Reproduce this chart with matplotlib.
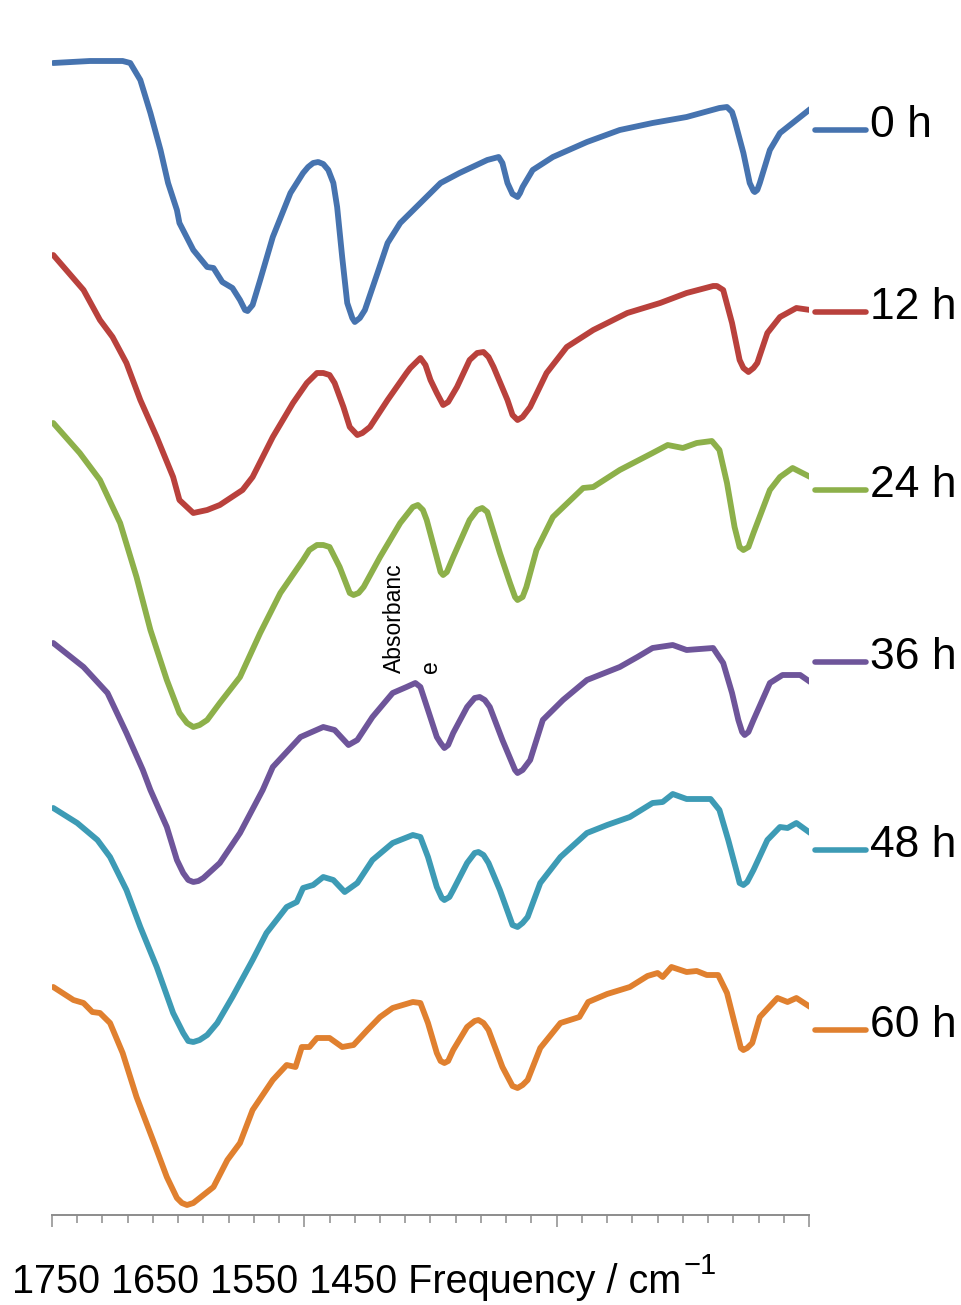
import matplotlib
matplotlib.use("Agg")
import matplotlib.pyplot as plt
from matplotlib.lines import Line2D
from matplotlib.ticker import MultipleLocator

plt.rcParams['font.family'] = ['Liberation Sans', 'DejaVu Sans']

# ---------------- data (wavenumber / cm-1, offset absorbance) ----------------
wn_0h = [1799, 1770, 1744, 1738, 1730, 1722, 1714, 1708, 1701, 1699, 1688, 1677, 1672, 1665, 1657,
         1651, 1647, 1645, 1641, 1635, 1625, 1611, 1601, 1597, 1593, 1589, 1585, 1581, 1577, 1574,
         1570, 1566, 1562, 1560, 1556, 1552, 1542, 1534, 1524, 1508, 1492, 1477, 1455, 1446, 1443,
         1439, 1435, 1431, 1429, 1427, 1419, 1403, 1376, 1350, 1324, 1297, 1271, 1265, 1261, 1259,
         1252, 1247, 1244, 1243, 1241, 1239, 1231, 1223, 1213, 1199]
ab_0h = [11.52, 11.54, 11.54, 11.52, 11.35, 11.02, 10.65, 10.32, 10.05, 9.92, 9.65, 9.48, 9.47, 9.33, 9.27,
         9.15, 9.05, 9.04, 9.10, 9.35, 9.78, 10.22, 10.42, 10.48, 10.52, 10.53, 10.51, 10.45, 10.32, 10.08,
         9.58, 9.12, 8.97, 8.93, 8.97, 9.05, 9.42, 9.72, 9.92, 10.12, 10.32, 10.42, 10.55, 10.58, 10.52,
         10.32, 10.21, 10.18, 10.22, 10.28, 10.45, 10.58, 10.73, 10.85, 10.92, 10.98, 11.07, 11.08, 11.03, 10.95,
         10.62, 10.32, 10.24, 10.23, 10.25, 10.32, 10.65, 10.82, 10.92, 11.06]

wn_12h = [1799, 1775, 1762, 1752, 1741, 1730, 1717, 1704, 1699, 1688, 1677, 1667, 1649, 1641, 1625,
          1609, 1598, 1590, 1585, 1580, 1576, 1569, 1564, 1558, 1554, 1548, 1534, 1519, 1516, 1508,
          1504, 1500, 1495, 1490, 1486, 1479, 1469, 1463, 1458, 1454, 1450, 1439, 1435, 1431, 1427,
          1421, 1408, 1392, 1371, 1344, 1318, 1297, 1276, 1273, 1268, 1261, 1255, 1252, 1248, 1244,
          1241, 1233, 1223, 1210, 1199]
ab_12h = [9.60, 9.25, 8.95, 8.78, 8.52, 8.15, 7.78, 7.38, 7.15, 7.02, 7.05, 7.10, 7.25, 7.38, 7.78,
          8.12, 8.32, 8.42, 8.42, 8.40, 8.32, 8.08, 7.88, 7.80, 7.82, 7.88, 8.15, 8.42, 8.47, 8.57,
          8.50, 8.35, 8.22, 8.10, 8.13, 8.28, 8.55, 8.62, 8.63, 8.58, 8.48, 8.15, 8.00, 7.95, 7.98,
          8.08, 8.42, 8.68, 8.85, 9.02, 9.12, 9.22, 9.29, 9.29, 9.25, 8.92, 8.55, 8.47, 8.43, 8.47,
          8.52, 8.82, 8.98, 9.07, 9.05]

wn_24h = [1799, 1778, 1762, 1746, 1733, 1722, 1709, 1699, 1693, 1688, 1683, 1677, 1667, 1651, 1635,
          1619, 1601, 1596, 1590, 1585, 1580, 1572, 1564, 1561, 1557, 1553, 1540, 1524, 1514, 1510,
          1506, 1503, 1496, 1492, 1490, 1487, 1482, 1469, 1463, 1459, 1455, 1453, 1445, 1437, 1433,
          1431, 1427, 1424, 1416, 1403, 1379, 1371, 1350, 1324, 1312, 1300, 1289, 1277, 1271, 1265,
          1259, 1255, 1252, 1248, 1244, 1231, 1223, 1213, 1199]
ab_24h = [7.92, 7.62, 7.35, 6.92, 6.38, 5.85, 5.35, 5.02, 4.92, 4.88, 4.90, 4.95, 5.12, 5.38, 5.82,
          6.22, 6.55, 6.65, 6.70, 6.70, 6.68, 6.48, 6.22, 6.20, 6.22, 6.28, 6.58, 6.92, 7.08, 7.10,
          7.05, 6.95, 6.62, 6.43, 6.40, 6.43, 6.58, 6.95, 7.05, 7.07, 7.03, 6.95, 6.62, 6.32, 6.18,
          6.15, 6.18, 6.28, 6.65, 6.98, 7.27, 7.28, 7.45, 7.62, 7.70, 7.67, 7.72, 7.74, 7.65, 7.32,
          6.88, 6.68, 6.65, 6.68, 6.82, 7.25, 7.38, 7.47, 7.38]

wn_36h = [1799, 1775, 1756, 1741, 1728, 1722, 1709, 1701, 1696, 1692, 1688, 1684, 1680, 1667, 1651,
          1633, 1625, 1603, 1585, 1576, 1565, 1558, 1546, 1530, 1519, 1512, 1508, 1502, 1495, 1492,
          1489, 1486, 1482, 1471, 1465, 1461, 1457, 1453, 1443, 1433, 1431, 1427, 1421, 1411, 1395,
          1376, 1350, 1336, 1324, 1308, 1297, 1276, 1268, 1261, 1256, 1253, 1251, 1248, 1244, 1231,
          1221, 1207, 1199]
ab_36h = [5.72, 5.48, 5.22, 4.82, 4.45, 4.25, 3.88, 3.55, 3.42, 3.35, 3.33, 3.34, 3.37, 3.52, 3.82,
          4.25, 4.48, 4.78, 4.88, 4.85, 4.70, 4.75, 4.98, 5.22, 5.28, 5.32, 5.28, 5.05, 4.78, 4.72,
          4.67, 4.70, 4.82, 5.08, 5.17, 5.18, 5.15, 5.08, 4.75, 4.45, 4.42, 4.45, 4.55, 4.95, 5.15,
          5.35, 5.48, 5.58, 5.67, 5.70, 5.65, 5.67, 5.52, 5.22, 4.95, 4.83, 4.80, 4.83, 4.95, 5.32,
          5.40, 5.40, 5.33]

wn_48h = [1799, 1780, 1764, 1754, 1741, 1730, 1717, 1704, 1696, 1692, 1688, 1683, 1677, 1669, 1657,
          1641, 1630, 1614, 1606, 1601, 1593, 1585, 1577, 1568, 1558, 1546, 1530, 1514, 1508, 1502,
          1495, 1491, 1489, 1485, 1482, 1471, 1465, 1462, 1458, 1454, 1445, 1435, 1431, 1427, 1423,
          1413, 1397, 1376, 1360, 1342, 1324, 1316, 1308, 1297, 1278, 1271, 1264, 1257, 1255, 1252,
          1249, 1244, 1233, 1223, 1217, 1210, 1199]
ab_48h = [4.07, 3.92, 3.75, 3.58, 3.25, 2.88, 2.48, 2.02, 1.82, 1.74, 1.73, 1.75, 1.80, 1.92, 2.18,
          2.55, 2.82, 3.08, 3.13, 3.27, 3.30, 3.38, 3.35, 3.23, 3.32, 3.55, 3.72, 3.80, 3.78, 3.58,
          3.28, 3.17, 3.15, 3.18, 3.25, 3.52, 3.62, 3.63, 3.60, 3.52, 3.25, 2.90, 2.88, 2.92, 2.98,
          3.32, 3.58, 3.82, 3.90, 3.98, 4.12, 4.13, 4.21, 4.16, 4.16, 4.05, 3.75, 3.42, 3.32, 3.30,
          3.33, 3.45, 3.75, 3.88, 3.87, 3.92, 3.82]

wn_60h = [1799, 1783, 1775, 1768, 1762, 1754, 1744, 1733, 1720, 1709, 1701, 1697, 1693, 1688, 1683,
          1672, 1661, 1651, 1641, 1625, 1614, 1607, 1602, 1596, 1590, 1580, 1570, 1561, 1550, 1540,
          1530, 1514, 1508, 1502, 1495, 1492, 1489, 1486, 1482, 1471, 1465, 1462, 1458, 1454, 1443,
          1435, 1431, 1427, 1423, 1413, 1397, 1382, 1375, 1360, 1342, 1328, 1320, 1316, 1309, 1297,
          1289, 1281, 1272, 1265, 1259, 1254, 1252, 1249, 1245, 1239, 1225, 1217, 1210, 1199]
ab_60h = [2.28, 2.15, 2.12, 2.03, 2.02, 1.92, 1.62, 1.18, 0.75, 0.38, 0.17, 0.12, 0.10, 0.12, 0.17,
          0.28, 0.55, 0.72, 1.05, 1.35, 1.50, 1.48, 1.68, 1.68, 1.77, 1.77, 1.68, 1.70, 1.85, 1.98,
          2.07, 2.13, 2.12, 1.92, 1.62, 1.54, 1.52, 1.54, 1.65, 1.88, 1.94, 1.95, 1.92, 1.85, 1.48,
          1.29, 1.27, 1.30, 1.35, 1.67, 1.92, 1.98, 2.13, 2.21, 2.28, 2.39, 2.42, 2.38, 2.48, 2.43,
          2.44, 2.40, 2.40, 2.22, 1.92, 1.67, 1.65, 1.67, 1.72, 1.98, 2.17, 2.13, 2.17, 2.08]

series_labels = ["0 h", "12 h", "24 h", "36 h", "48 h", "60 h"]
series_wn = [wn_0h, wn_12h, wn_24h, wn_36h, wn_48h, wn_60h]
series_ab = [ab_0h, ab_12h, ab_24h, ab_36h, ab_48h, ab_60h]
colors = ["#4673AF", "#B9413C", "#8DB04A", "#6E559A", "#3D9BB5", "#E0802F"]

axis_label = "1750 1650 1550 1450 Frequency / cm"
axis_label_sup = "\u22121"
y_title = "Absorbance"

# ---------------- figure ----------------
W, H = 962, 1305
fig = plt.figure(figsize=(W / 100, H / 100), dpi=100)
ax = fig.add_axes([52 / W, (H - 1215) / H, (809 - 52) / W, 1175 / H])

for wn, ab, c in zip(series_wn, series_ab, colors):
    ax.plot(wn, ab, color=c, lw=4.2, solid_joinstyle='round', solid_capstyle='round')

ax.set_xlim(1800, 1200)
ax.set_ylim(0, 11.75)
for s in ['left', 'right', 'top']:
    ax.spines[s].set_visible(False)
ax.spines['bottom'].set_color('#8c8c8c')
ax.spines['bottom'].set_linewidth(1.4)
ax.xaxis.set_major_locator(MultipleLocator(200))
ax.xaxis.set_minor_locator(MultipleLocator(20))
ax.tick_params(axis='x', which='major', direction='out', length=8.5, width=1.1,
               color='#8c8c8c', labelbottom=False)
ax.tick_params(axis='x', which='minor', direction='out', length=5.5, width=1.1,
               color='#8c8c8c')
ax.set_yticks([])
ax.patch.set_alpha(0)

# legend: short line + label next to each series end
legend_y = [130, 312, 490, 662, 850, 1030]
for yy, lab, c in zip(legend_y, series_labels, colors):
    fig.add_artist(Line2D([815 / W, 866 / W], [1 - yy / H, 1 - yy / H], color=c,
                          lw=4.0, solid_capstyle='round'))
    fig.text(870 / W, 1 - (yy + 7) / H, lab, fontsize=32, ha='left', va='baseline',
             color='black')

# x axis label text line, with superscript
t = fig.text(12 / W, 1 - 1293 / H, axis_label, fontsize=28.5, ha='left', va='baseline')
fig.canvas.draw()
bb = t.get_window_extent(renderer=fig.canvas.get_renderer())
fig.text((bb.x1 + 2) / W, 1 - 1274 / H, axis_label_sup, fontsize=21, ha='left',
         va='baseline')

# wrapped y-axis title
fig.text(394 / W, 1 - 673 / H, y_title[:-1], fontsize=16.5, rotation=90,
         ha='center', va='bottom')
fig.text(431 / W, 1 - 673 / H, y_title[-1], fontsize=16.5, rotation=90,
         ha='center', va='bottom')

fig.savefig("out.png", dpi=100)
